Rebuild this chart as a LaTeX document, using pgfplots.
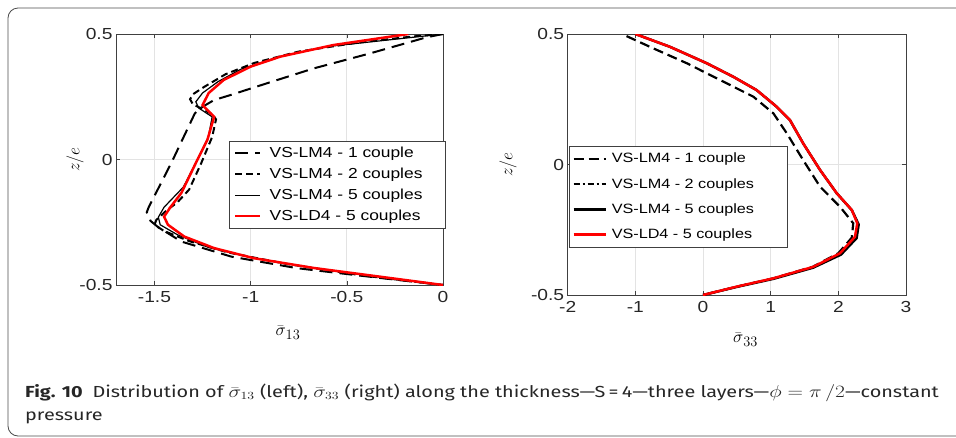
\documentclass[border=0pt]{standalone}
\usepackage{pgfplots}
\pgfplotsset{compat=1.18}
\usepackage{fontspec}
\newfontfamily\mlfont[FakeStretch=1.2]{Liberation Sans}
\newfontfamily\capfont{Fira Sans}
\definecolor{axgray}{HTML}{404040}
\definecolor{gridgray}{HTML}{E3E3E3}
\newcommand{\sig}[1]{$\bar{\sigma}$\raisebox{-3.5pt}{\fontsize{15}{17}\selectfont$#1$}}

\pgfplotsset{
  mlaxis/.style={
    scale only axis,
    axis line style={axgray, line width=0.7pt},
    tick style={axgray, line width=0.6pt},
    major tick length=4pt,
    tick align=inside,
    grid=major,
    major grid style={gridgray, line width=0.7pt},
    ymin=-0.5, ymax=0.5,
    ytick={-0.5,0,0.5},
    yticklabels={-0.5,0,0.5},
    ticklabel style={font=\mlfont\fontsize{16}{18}\selectfont, text=black!85},
    xticklabel style={yshift=-3pt},
    legend cell align=left,
    legend image code/.code={\draw[##1] (0pt,0pt) -- (25pt,0pt);},
    label style={font=\fontsize{19}{22}\selectfont},
  },
}

\begin{document}
\begin{tikzpicture}
\path[use as bounding box] (0pt,0pt) rectangle (956pt,-437pt);
\draw[black!70, line width=0.8pt, rounded corners=10pt] (8pt,-8pt) rectangle (1010pt,-436pt);

% left panel
\begin{axis}[mlaxis,
  at={(116pt,-34pt)}, anchor=north west,
  width=327pt, height=251pt,
  xmin=-1.7, xmax=0,
  xtick={-1.5,-1,-0.5,0},
  xticklabels={-1.5,-1,-0.5,0},
  xlabel={\sig{13}},
  ylabel={$z/e$},
  xlabel style={at={(axis description cs:0.525,-0.19)}, anchor=center},
  ylabel style={at={(axis description cs:-0.125,0.5)}, anchor=center},
  legend style={at={(axis description cs:0.3456,0.5737)}, anchor=north west,
    draw=axgray, fill=white, font=\mlfont\fontsize{14.5}{17}\selectfont,
    row sep=5pt, column sep=6pt, inner xsep=5pt, inner ysep=4pt},
]
\addplot[black, line width=2pt, dash pattern=on 13pt off 7pt] coordinates {
(0,0.5) (-0.085,0.487) (-0.378,0.423) (-0.672,0.363) (-0.914,0.304)
(-1.104,0.257) (-1.19,0.237) (-1.25,0.21) (-1.29,0.184) (-1.41,-0.01)
(-1.53,-0.19) (-1.54,-0.21) (-1.52,-0.245) (-1.48,-0.27) (-1.36,-0.327)
(-1.1,-0.387) (-0.758,-0.433) (-0.326,-0.472) (0,-0.5)
};
\addlegendentry{VS-LM4 - 1 couple}
\addplot[black, line width=2pt, dash pattern=on 7pt off 4pt] coordinates {
(0,0.5) (-0.16,0.49) (-0.45,0.465) (-0.75,0.43) (-0.98,0.385) (-1.13,0.34)
(-1.24,0.29) (-1.3,0.26) (-1.315,0.24) (-1.3,0.22) (-1.26,0.205) (-1.2,0.18)
(-1.18,0.16) (-1.2,0.09) (-1.26,-0.02) (-1.32,-0.12) (-1.38,-0.17)
(-1.44,-0.205) (-1.49,-0.24) (-1.5,-0.26) (-1.45,-0.285) (-1.32,-0.325)
(-1.12,-0.37) (-0.82,-0.415) (-0.42,-0.462) (0,-0.5)
};
\addlegendentry{VS-LM4 - 2 couples\hspace*{16pt}}
\addplot[black, line width=1.2pt] coordinates {
(0,0.5) (-0.3,0.475) (-0.6,0.45) (-0.85,0.41) (-1.05,0.36) (-1.17,0.31)
(-1.25,0.265) (-1.285,0.23) (-1.27,0.205) (-1.2,0.17) (-1.22,0.09)
(-1.29,-0.02) (-1.35,-0.11) (-1.4,-0.15) (-1.45,-0.19) (-1.48,-0.23)
(-1.47,-0.26) (-1.38,-0.3) (-1.22,-0.35) (-1.0,-0.39) (-0.7,-0.43)
(-0.35,-0.465) (0,-0.5)
};
\addlegendentry{VS-LM4 - 5 couples}
\addplot[red, line width=2.5pt] coordinates {
(-0.18,0.5) (-0.57,0.456) (-0.845,0.41) (-1.0,0.37) (-1.14,0.317)
(-1.218,0.265) (-1.25,0.217) (-1.19,0.17) (-1.225,0.078) (-1.285,-0.014)
(-1.36,-0.133) (-1.42,-0.193) (-1.45,-0.228) (-1.43,-0.26) (-1.345,-0.307)
(-1.19,-0.353) (-0.984,-0.393) (-0.673,-0.432) (-0.326,-0.467) (0,-0.5)
};
\addlegendentry{VS-LD4 - 5 couples}
\end{axis}

% right panel
\begin{axis}[mlaxis,
  at={(567.7pt,-34pt)}, anchor=north west,
  width=338.3pt, height=261pt,
  xmin=-2, xmax=3,
  xtick={-2,-1,0,1,2,3},
  xticklabels={-2,-1,0,1,2,3},
  xlabel={\sig{33}},
  ylabel={$z/e$},
  xlabel style={at={(axis description cs:0.525,-0.172)}, anchor=center},
  ylabel style={at={(axis description cs:-0.176,0.5)}, anchor=center},
  legend image code/.code={\draw[#1] (0pt,0pt) -- (32pt,0pt);},
  legend style={at={(axis description cs:0.004,0.571)}, anchor=north west,
    draw=axgray, fill=white, font=\mlfont\fontsize{13.5}{16}\selectfont,
    row sep=10pt, column sep=3pt, inner xsep=3pt, inner ysep=5pt},
]
\addplot[black, line width=2.2pt, dash pattern=on 10pt off 5pt] coordinates {
(-1.13,0.492) (-0.735,0.445) (-0.24,0.388) (0.25,0.324) (0.743,0.26)
(1.04,0.196) (1.237,0.12) (1.48,0.017) (1.73,-0.085) (2.025,-0.162)
(2.22,-0.225) (2.2,-0.28) (2.0,-0.34) (1.62,-0.392) (1.04,-0.436)
(0.5,-0.468) (0,-0.5)
};
\addlegendentry{VS-LM4 - 1 couple}
\addplot[black, line width=1.8pt, dash pattern=on 6pt off 3pt on 2pt off 3pt] coordinates {
(-1.0,0.5) (-0.49,0.451) (0.055,0.388) (0.448,0.336) (0.793,0.285)
(1.09,0.221) (1.285,0.17) (1.48,0.081) (1.73,-0.021) (1.976,-0.11)
(2.2,-0.175) (2.29,-0.228) (2.26,-0.28) (2.03,-0.342) (1.63,-0.394)
(1.04,-0.437) (0.497,-0.469) (0,-0.5)
};
\addlegendentry{VS-LM4 - 2 couples\hspace*{28pt}}
\addplot[black, line width=2.5pt] coordinates {
(-1.0,0.5) (-0.49,0.451) (0.055,0.388) (0.448,0.336) (0.793,0.285)
(1.09,0.221) (1.285,0.17) (1.48,0.081) (1.73,-0.021) (1.976,-0.11)
(2.2,-0.175) (2.3,-0.23) (2.27,-0.282) (2.04,-0.345) (1.63,-0.395)
(1.04,-0.438) (0.497,-0.469) (0,-0.5)
};
\addlegendentry{VS-LM4 - 5 couples}
\addplot[red, line width=2.5pt] coordinates {
(-1.0,0.5) (-0.49,0.451) (0.055,0.388) (0.448,0.336) (0.793,0.285)
(1.09,0.221) (1.285,0.17) (1.48,0.081) (1.73,-0.021) (1.976,-0.11)
(2.198,-0.174) (2.28,-0.225) (2.246,-0.277) (2.025,-0.34) (1.63,-0.392)
(1.04,-0.436) (0.497,-0.468) (0,-0.5)
};
\addlegendentry{VS-LD4 - 5 couples}
\end{axis}

% caption
\node[anchor=base west, inner sep=0pt, text=black!85] at (25pt,-397pt)
  {\scalebox{1.24}[1]{\capfont\fontsize{16}{19}\selectfont\textbf{Fig. 10}\hspace{8pt}Distribution of $\bar{\sigma}_{13}$ (left), $\bar{\sigma}_{33}$ (right) along the thickness—S\,=\,4—three layers—$\phi = \pi\,/2$—constant}};
\node[anchor=base west, inner sep=0pt, text=black!85] at (25pt,-420pt)
  {\scalebox{1.24}[1]{\capfont\fontsize{16}{19}\selectfont pressure}};
\end{tikzpicture}
\end{document}
